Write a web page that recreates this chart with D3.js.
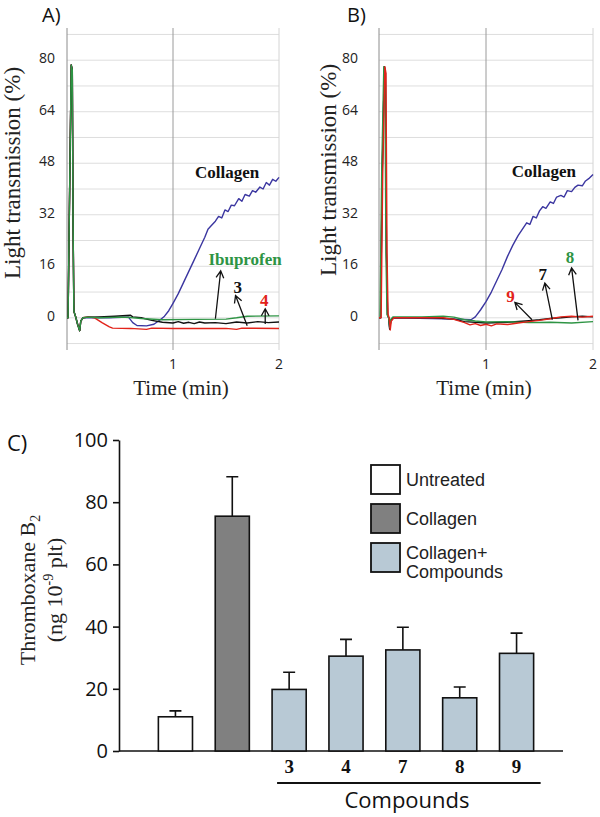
<!DOCTYPE html>
<html>
<head>
<meta charset="utf-8">
<script src="https://cdn.jsdelivr.net/npm/d3@7/dist/d3.min.js"></script>
<style>
  body { margin: 0; background: #fff; }
</style>
</head>
<body>
<svg id="chart" width="600" height="817"></svg>
<script>
// ---------- data: aggregation traces (time in min, light transmission in %) ----------
const timeTicks = [1, 2];
const transTicks = [0, 16, 32, 48, 64, 80];
const gridLevels = [-8, 0, 8, 16, 24, 32, 40, 48, 56, 64, 72, 80, 88];

const spikeA = [[0, 0], [0.01, 0], [0.025, 40], [0.04, 78.5], [0.05, 77], [0.057, 30], [0.065, 2], [0.08, 0.5], [0.1, -2], [0.12, -4], [0.13, -1], [0.15, 0]];
const spikeB = [[0, 0], [0.015, 0], [0.03, 45], [0.05, 78], [0.06, 76], [0.07, 20], [0.08, 1], [0.09, 0], [0.1, -3.5], [0.11, -1], [0.13, 0]];

const collagenA = spikeA.concat([[0.4, 0], [0.58, 0.2], [0.62, -1.5], [0.66, -2.4], [0.75, -2.5], [0.82, -2], [0.88, -0.6], [0.92, 0.5], [0.96, 2.2], [1.0, 4.5], [1.05, 7.5], [1.1, 11], [1.15, 14.5], [1.2, 18], [1.25, 21.5], [1.3, 25], [1.33, 27.5], [1.36, 28.6], [1.4, 30], [1.43, 31.5], [1.46, 31], [1.49, 33.5], [1.52, 33], [1.55, 35], [1.58, 34.8], [1.62, 37], [1.65, 36.2], [1.68, 38.3], [1.72, 37.8], [1.75, 39.5], [1.78, 39], [1.82, 40.6], [1.85, 40], [1.88, 42], [1.91, 41.2], [1.94, 43], [1.97, 42.4], [2.0, 43.6]]);
const ibuprofenA = spikeA.concat([[0.2, 0.2], [0.3, 0], [0.5, 0.2], [0.6, 0.1], [0.7, -0.2], [0.9, -0.6], [1.2, -0.5], [1.5, -0.4], [1.6, 0], [1.7, 0.5], [2.0, 0.6]]);
const cmpd3A = spikeA.concat([[0.2, 0.2], [0.3, 0.3], [0.45, 0.5], [0.6, 0.8], [0.62, 0.3], [0.7, 0], [0.8, -0.8], [0.9, -1.4], [1.0, -1.6], [1.05, -1.2], [1.1, -1.7], [1.15, -1.4], [1.2, -1.8], [1.25, -1.3], [1.3, -1.6], [1.4, -1.5], [1.5, -1.8], [1.6, -1.3], [1.7, -1.6], [1.8, -1.2], [1.9, -1.5], [2.0, -1.3]]);
const cmpd4A = spikeA.concat([[0.2, 0.3], [0.26, 0], [0.33, -1.5], [0.4, -2.8], [0.43, -3.2], [0.6, -3.3], [0.75, -3.6], [0.8, -3.2], [1.0, -3.3], [1.5, -3.3], [1.6, -3.6], [1.65, -3.2], [2.0, -3.3]]);

const collagenB = spikeB.concat([[0.5, -0.2], [0.8, -0.5], [0.86, -0.6], [0.9, 0.3], [0.95, 2.5], [1.0, 5], [1.05, 8], [1.1, 11.5], [1.15, 15], [1.2, 19], [1.25, 22.5], [1.3, 25.5], [1.35, 28], [1.38, 29.5], [1.41, 29], [1.44, 31.5], [1.47, 31], [1.5, 33.2], [1.53, 34.5], [1.56, 34], [1.6, 36], [1.63, 35.5], [1.66, 37.5], [1.7, 38], [1.73, 37.5], [1.76, 39.5], [1.8, 39.2], [1.83, 40.5], [1.86, 41.2], [1.9, 41], [1.93, 42.5], [1.96, 43.2], [2.0, 44.5]]);
const cmpd7B = spikeB.concat([[0.5, 0], [0.7, -0.4], [0.8, -1.2], [1.0, -1.6], [1.2, -1.4], [1.4, -0.9], [1.5, -0.6], [1.6, -0.2], [1.7, 0], [1.8, 0.3], [1.9, 0.5], [2.0, 0.3]]);
const cmpd8B = [[0, 0], [0.01, 0], [0.025, 45], [0.045, 78], [0.055, 76], [0.065, 20], [0.075, 1], [0.09, 0], [0.1, -3], [0.11, -0.5], [0.13, 0.3], [0.4, 0.3], [0.6, 0.5], [0.7, 0.2], [0.8, -0.6], [0.9, -1], [1.0, -1.3], [1.2, -1.2], [1.4, -1.5], [1.6, -1.4], [1.8, -1.6], [2.0, -1.2]];
const cmpd9B = [[0, 0], [0.02, 0], [0.035, 45], [0.055, 78], [0.065, 76], [0.075, 20], [0.085, 1], [0.095, 0], [0.105, -3.8], [0.115, -1], [0.14, 0], [0.4, 0], [0.6, 0], [0.7, -0.5], [0.8, -1.5], [0.85, -2.2], [0.9, -1.8], [0.95, -2.4], [1.0, -2], [1.05, -2.5], [1.1, -1.9], [1.2, -2.1], [1.3, -1.6], [1.4, -1.2], [1.5, -0.8], [1.6, -0.3], [1.7, 0.3], [1.8, 0.5], [1.9, 0.2], [2.0, 0.5]];

// labels and arrows, in data units [time, %]
const labelsA = [
  { text: "Collagen", color: "#111", at: [1.51, 43.3] },
  { text: "Ibuprofen", color: "#2e9444", at: [1.68, 16.3] },
  { text: "3", color: "#111", at: [1.61, 7.8] },
  { text: "4", color: "#e2231a", at: [1.86, 3.7] }
];
const arrowsA = [[1.40, -0.3, 1.45, 14.6], [1.70, -2.5, 1.59, 6.9], [1.87, -1.9, 1.87, 2.8]];
const labelsB = [
  { text: "Collagen", color: "#111", at: [1.54, 43.6] },
  { text: "9", color: "#e2231a", at: [1.23, 5.0] },
  { text: "7", color: "#111", at: [1.53, 11.8] },
  { text: "8", color: "#2e9444", at: [1.785, 17.1] }
];
const arrowsB = [[1.43, -0.6, 1.27, 4.8], [1.62, -0.6, 1.55, 10.8], [1.86, -0.8, 1.80, 15.5]];

// ---------- data: thromboxane B2 ----------
const categories = ["Untreated", "Collagen", "3", "4", "7", "8", "9"];
const means = [11, 75.5, 19.8, 30.5, 32.5, 17.1, 31.4];
const errors = [1.9, 12.7, 5.5, 5.4, 7.3, 3.5, 6.5];
const groups = ["untreated", "collagen", "compound", "compound", "compound", "compound", "compound"];
const txTicks = [0, 20, 40, 60, 80, 100];
const legendItems = [["Untreated"], ["Collagen"], ["Collagen+", "Compounds"]];

const colors = { blue: "#3b36a0", green: "#2e9444", red: "#e2231a", black: "#111" };
const barFill = { untreated: "#ffffff", collagen: "#808080", compound: "#b8c9d5" };

const svg = d3.select("#chart");
const serif = "'Liberation Serif', 'Times New Roman', serif";
const sans = "'Open Sans', sans-serif";

function drawPanel(cfg) {
  const x = d3.scaleLinear().domain([0, 2]).range([cfg.left, cfg.right]);
  const y = d3.scaleLinear().domain([-10, 90]).range([350, 28]);
  const g = svg.append("g");

  g.selectAll(".hgrid").data(gridLevels).enter().append("line")
    .attr("x1", x(0)).attr("x2", x(2))
    .attr("y1", d => y(d)).attr("y2", d => y(d))
    .attr("stroke", "#dedede").attr("stroke-width", 1);
  g.selectAll(".vgrid").data(timeTicks).enter().append("line")
    .attr("x1", d => x(d)).attr("x2", d => x(d))
    .attr("y1", y(90)).attr("y2", y(-10))
    .attr("stroke", d => d === 1 ? "#9a9a9a" : "#d4d4d4").attr("stroke-width", 1);
  g.append("line")
    .attr("x1", x(0)).attr("x2", x(0)).attr("y1", y(90)).attr("y2", y(-10))
    .attr("stroke", "#8c8c8c").attr("stroke-width", 1);

  const line = d3.line().x(d => x(d[0])).y(d => y(d[1]));
  cfg.series.forEach(s => {
    g.append("path").datum(s.data)
      .attr("d", line).attr("fill", "none")
      .attr("stroke", s.color).attr("stroke-width", 1.4)
      .attr("stroke-linejoin", "round");
  });

  g.selectAll(".ytick").data(transTicks).enter().append("text")
    .attr("x", x(0) - cfg.tickGap).attr("y", d => y(d) + 3)
    .attr("text-anchor", "end")
    .attr("font-family", sans).attr("font-size", 14).attr("fill", "#222")
    .text(d => d);
  g.selectAll(".xtick").data(timeTicks).enter().append("text")
    .attr("x", d => x(d)).attr("y", 369)
    .attr("text-anchor", "middle")
    .attr("font-family", sans).attr("font-size", 14).attr("fill", "#222")
    .text(d => d);

  g.append("text")
    .attr("transform", `translate(${cfg.titleX},${cfg.titleY}) rotate(-90)`)
    .attr("text-anchor", "middle")
    .attr("font-family", serif).attr("font-size", 23).attr("fill", "#222")
    .text("Light transmission (%)");
  g.append("text")
    .attr("x", cfg.timeX).attr("y", 395)
    .attr("text-anchor", "middle")
    .attr("font-family", serif).attr("font-size", 21).attr("fill", "#222")
    .text("Time (min)");
  g.append("text")
    .attr("x", cfg.tagX).attr("y", 22)
    .attr("font-family", sans).attr("font-size", 20).attr("fill", "#111")
    .text(cfg.tag);

  cfg.arrows.forEach(a => {
    const x0 = x(a[0]), y0 = y(a[1]), x1 = x(a[2]), y1 = y(a[3]);
    const ang = Math.atan2(y1 - y0, x1 - x0);
    const L = 8, spread = 0.5;
    g.append("path")
      .attr("d", `M${x0},${y0}L${x1},${y1}` +
        `M${x1 - L * Math.cos(ang - spread)},${y1 - L * Math.sin(ang - spread)}L${x1},${y1}` +
        `L${x1 - L * Math.cos(ang + spread)},${y1 - L * Math.sin(ang + spread)}`)
      .attr("fill", "none").attr("stroke", "#111").attr("stroke-width", 1.3);
  });

  g.selectAll(".lab").data(cfg.labels).enter().append("text")
    .attr("x", d => x(d.at[0])).attr("y", d => y(d.at[1]))
    .attr("text-anchor", "middle")
    .attr("font-family", serif).attr("font-weight", "bold").attr("font-size", 17)
    .attr("fill", d => d.color)
    .text(d => d.text);
}

drawPanel({
  left: 67, right: 279, tickGap: 12, titleX: 20, titleY: 173, timeX: 181, tagX: 42, tag: "A)",
  series: [
    { data: collagenA, color: colors.blue },
    { data: cmpd4A, color: colors.red },
    { data: cmpd3A, color: colors.black },
    { data: ibuprofenA, color: colors.green }
  ],
  labels: labelsA, arrows: arrowsA
});

drawPanel({
  left: 379, right: 593, tickGap: 21, titleX: 336, titleY: 170, timeX: 484, tagX: 347, tag: "B)",
  series: [
    { data: collagenB, color: colors.blue },
    { data: cmpd7B, color: colors.black },
    { data: cmpd8B, color: colors.green },
    { data: cmpd9B, color: colors.red }
  ],
  labels: labelsB, arrows: arrowsB
});

// ---------- panel C ----------
const yC = d3.scaleLinear().domain([0, 100]).range([751, 440]);
const xC = d3.scaleBand().domain(categories).range([147, 545]).paddingInner(0.4).paddingOuter(0.2);
const gC = svg.append("g");

const yAxis = gC.append("g")
  .attr("transform", "translate(119,0)")
  .call(d3.axisLeft(yC).tickValues(txTicks).tickSize(6).tickSizeOuter(0).tickPadding(5));
yAxis.select(".domain").attr("stroke", "#111").attr("stroke-width", 1.6);
yAxis.selectAll(".tick line").attr("stroke", "#111").attr("stroke-width", 1.6);
yAxis.selectAll(".tick text")
  .attr("font-family", sans).attr("font-size", 20).attr("fill", "#111");

gC.append("line")
  .attr("x1", 119).attr("x2", 563).attr("y1", yC(0)).attr("y2", yC(0))
  .attr("stroke", "#111").attr("stroke-width", 1.6);

const bars = categories.map((c, i) => ({ c, m: means[i], e: errors[i], g: groups[i] }));

gC.selectAll(".err").data(bars).enter().append("path")
  .attr("d", d => {
    const cx = xC(d.c) + xC.bandwidth() / 2;
    return `M${cx},${yC(d.m)}V${yC(d.m + d.e)}M${cx - 6},${yC(d.m + d.e)}H${cx + 6}`;
  })
  .attr("fill", "none").attr("stroke", "#111").attr("stroke-width", 1.6);

gC.selectAll(".bar").data(bars).enter().append("rect")
  .attr("x", d => xC(d.c)).attr("width", xC.bandwidth())
  .attr("y", d => yC(d.m)).attr("height", d => yC(0) - yC(d.m))
  .attr("fill", d => barFill[d.g]).attr("stroke", "#111").attr("stroke-width", 1.6);

gC.selectAll(".clab").data(bars.filter(d => d.g === "compound")).enter().append("text")
  .attr("x", d => xC(d.c) + xC.bandwidth() / 2).attr("y", 773)
  .attr("text-anchor", "middle")
  .attr("font-family", serif).attr("font-weight", "bold").attr("font-size", 19).attr("fill", "#111")
  .text(d => d.c);

const compCats = categories.filter((c, i) => groups[i] === "compound");
gC.append("line")
  .attr("x1", xC(compCats[0]) + 5).attr("x2", xC(compCats[compCats.length - 1]) + xC.bandwidth() + 7)
  .attr("y1", 783).attr("y2", 783)
  .attr("stroke", "#111").attr("stroke-width", 2);
gC.append("text")
  .attr("x", 407).attr("y", 808).attr("text-anchor", "middle")
  .attr("font-family", sans).attr("font-size", 22).attr("fill", "#111")
  .text("Compounds");

// y title with subscript / superscript
const yt = gC.append("text")
  .attr("transform", "translate(0,590) rotate(-90)")
  .attr("text-anchor", "middle")
  .attr("font-family", serif).attr("font-size", 22).attr("fill", "#222");
const l1 = yt.append("tspan").attr("x", 0).attr("y", 35);
l1.append("tspan").text("Thromboxane B");
l1.append("tspan").attr("font-size", 14).attr("dy", 5).text("2");
const l2 = yt.append("tspan").attr("x", 0).attr("y", 62);
l2.append("tspan").text("(ng 10");
l2.append("tspan").attr("font-size", 14).attr("dy", -9).text("-9");
l2.append("tspan").attr("dy", 9).text(" plt)");

gC.append("text")
  .attr("x", 7).attr("y", 451)
  .attr("font-family", sans).attr("font-size", 22).attr("fill", "#111")
  .text("C)");

// legend
const legendFill = [barFill.untreated, barFill.collagen, barFill.compound];
const legendTop = [465, 504, 543];
legendItems.forEach((lines, i) => {
  gC.append("rect")
    .attr("x", 371).attr("y", legendTop[i]).attr("width", 29).attr("height", 29)
    .attr("fill", legendFill[i]).attr("stroke", "#111").attr("stroke-width", 1.8);
  lines.forEach((t, j) => {
    gC.append("text")
      .attr("x", 406).attr("y", legendTop[i] + 21 + j * 19 - (lines.length > 1 ? 5 : 0))
      .attr("font-family", "'Liberation Sans', Arial, sans-serif").attr("font-size", 18).attr("fill", "#222")
      .text(t);
  });
});
</script>
</body>
</html>
